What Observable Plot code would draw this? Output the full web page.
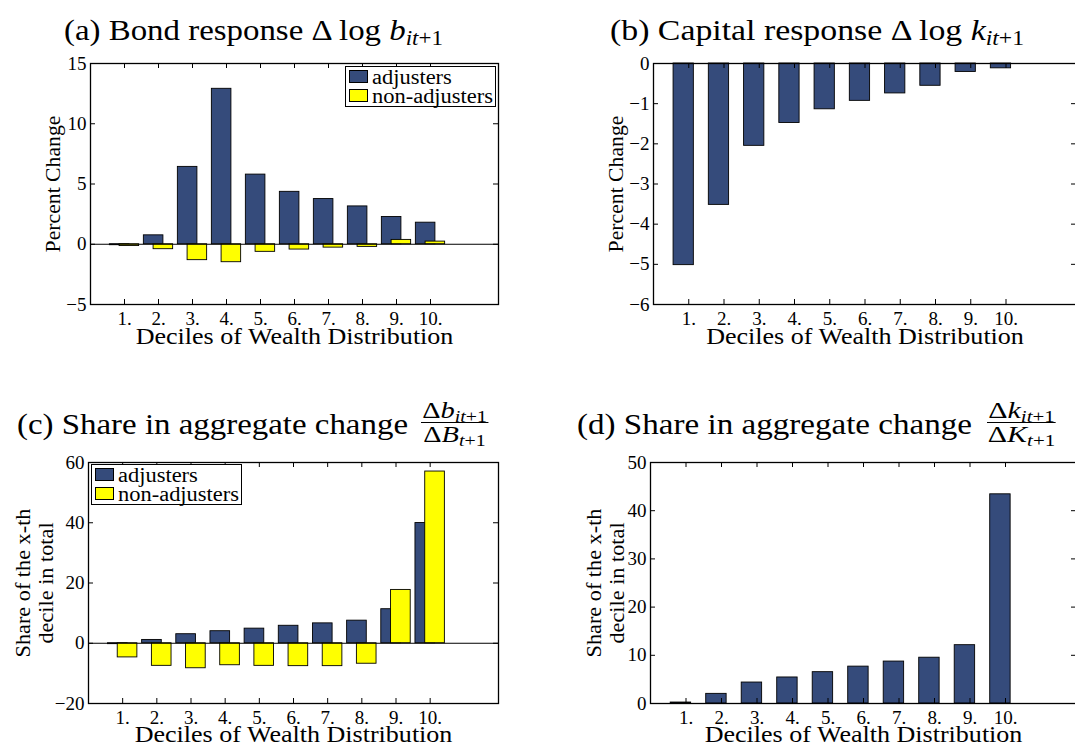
<!DOCTYPE html>
<html><head><meta charset="utf-8">
<script src="https://cdn.jsdelivr.net/npm/d3@7"></script>
<script src="https://cdn.jsdelivr.net/npm/@observablehq/plot@0.6"></script>
<style>
html,body{margin:0;padding:0;background:#fff;}
body{width:1075px;height:746px;overflow:hidden;position:relative;font-family:"Liberation Serif",serif;color:#000;}
.title{position:absolute;white-space:nowrap;font-size:30px;line-height:29px;}
.title sub,.frac sub{font-size:0.7em;vertical-align:-0.25em;line-height:0;}
.frac{position:absolute;font-size:24px;line-height:20px;text-align:center;white-space:nowrap;}
.frac .num{padding:0 1px 2px 1px;border-bottom:1.2px solid #000;}
.frac .den{padding-top:1px;}
.legend{position:absolute;border:1.2px solid #000;background:#fff;font-size:20px;line-height:19px;box-sizing:border-box;}
.legend .row{position:relative;height:19px;padding-left:26px;white-space:nowrap;}
.legend .row span.t{display:inline-block;}
.legend .sw{position:absolute;left:3px;top:2px;width:19px;height:13px;border:1px solid #000;box-sizing:border-box;}
</style>
</head><body>
<script>
// ---- data ----
const deciles = [1, 2, 3, 4, 5, 6, 7, 8, 9, 10];
const decileLabels = ["1.", "2.", "3.", "4.", "5.", "6.", "7.", "8.", "9.", "10."];
const seriesNames = ["adjusters", "non-adjusters"];
// (a) Bond response, percent change
const bondAdj    = [-0.08, 0.74, 6.42, 12.9, 5.78, 4.35, 3.75, 3.14, 2.26, 1.79];
const bondNonAdj = [-0.15, -0.41, -1.32, -1.49, -0.63, -0.44, -0.28, -0.22, 0.36, 0.22];
// (b) Capital response, percent change
const capAdj     = [-5.02, -3.52, -2.05, -1.48, -1.14, -0.93, -0.745, -0.555, -0.21, -0.12];
// (c) Share in aggregate bond change
const bondShareAdj    = [-0.3, 1.1, 3.0, 4.0, 4.85, 5.8, 6.6, 7.5, 11.3, 39.9];
const bondShareNonAdj = [-4.7, -7.5, -8.3, -7.3, -7.5, -7.6, -7.6, -6.8, 17.7, 57.0];
// (d) Share in aggregate capital change
const capShareAdj = [0.2, 2.0, 4.35, 5.4, 6.5, 7.65, 8.7, 9.5, 12.1, 43.4];
// ticks
const yTicksA = [-5, 0, 5, 10, 15];
const yTicksB = [-6, -5, -4, -3, -2, -1, 0];
const yTicksC = [-20, 0, 20, 40, 60];
const yTicksD = [0, 10, 20, 30, 40, 50];
const xLabel = "Deciles of Wealth Distribution";
const yLabelPct = "Percent Change";
const yLabelShare = "Share of the x-th\ndecile in total";

const BLUE = "#354B7B", YELLOW = "#FFFF00";
const OFF = 0.143, BW = 0.575;
const FONT = "'Liberation Serif', serif";

// stretch an SVG text horizontally (along its baseline) to a target length
function stretchText(svg, startsWith, target) {
  for (const t of svg.querySelectorAll("text")) {
    if (!t.textContent.startsWith(startsWith)) continue;
    let w = t.getBBox().width;
    const first = t.querySelector("tspan");
    if (first) w = first.getComputedTextLength();
    const k = target / w;
    const tr = t.getAttribute("transform") || "";
    t.setAttribute("transform", tr + ` scale(${k},1)`);
  }
}

function panel(o) {
  const plotW = o.width - o.mL - o.mR, plotH = o.height - o.mT - o.mB;
  const marks = [];
  o.series.forEach(s => {
    const rows = deciles.map((x, i) => ({x, v: s.values[i]}));
    marks.push(Plot.rect(rows, {
      x1: d => d.x + s.offset - BW / 2, x2: d => d.x + s.offset + BW / 2,
      y1: d => 0, y2: d => d.v, fill: s.color, stroke: "#000", strokeWidth: 0.9
    }));
  });
  if (o.zero) marks.push(Plot.ruleY([0], {stroke: "#000", strokeWidth: 1}));
  const tk = {stroke: "#000", strokeWidth: 1};
  marks.push(Plot.tickY(o.yTicks, {y: d => d, insetRight: plotW - 5, ...tk}));
  marks.push(Plot.tickY(o.yTicks, {y: d => d, insetLeft: plotW - 5, ...tk}));
  marks.push(Plot.tickX(deciles, {x: d => d, insetTop: plotH - 5, ...tk}));
  marks.push(Plot.tickX(deciles, {x: d => d, insetBottom: plotH - 5, ...tk}));
  marks.push(Plot.frame({stroke: "#000", strokeWidth: 1.3}));
  marks.push(Plot.axisY(o.yTicks, {tickSize: 0, tickPadding: 4, label: null, fontSize: 19}));
  marks.push(Plot.axisX(deciles, {tickSize: 0, tickPadding: 7, label: null, fontSize: 19, tickFormat: d => decileLabels[d - 1]}));
  marks.push(Plot.text([xLabel], {text: d => d, frameAnchor: "bottom", textAnchor: "middle", dy: o.xdy, fontSize: 24, lineAnchor: "middle"}));
  marks.push(Plot.text([o.yLabel], {text: d => d, frameAnchor: "left", textAnchor: "middle", dx: o.ydx, rotate: -90, fontSize: 20, lineAnchor: "middle", lineHeight: 1.15}));
  const svg = Plot.plot({
    width: o.width, height: o.height,
    marginLeft: o.mL, marginRight: o.mR, marginTop: o.mT, marginBottom: o.mB,
    x: {type: "linear", domain: [0, 12], axis: null},
    y: {type: "linear", domain: o.yDomain, axis: null},
    style: {fontFamily: FONT, fontSize: "19px", color: "#000", background: "transparent", overflow: "visible"},
    marks
  });
  svg.style.position = "absolute";
  svg.style.left = o.left + "px";
  svg.style.top = o.top + "px";
  document.body.appendChild(svg);
  stretchText(svg, xLabel, 318);
  stretchText(svg, o.yLabel.split("\n")[0], o.yLen);
}

panel({left: 0, top: 0, width: 540, height: 360, mL: 90, mR: 42, mT: 63, mB: 56,
  yDomain: [-5, 15], yTicks: yTicksA, yLabel: yLabelPct, yLen: 137, zero: true, xdy: 32, ydx: -38,
  series: [{values: bondAdj, color: BLUE, offset: -OFF}, {values: bondNonAdj, color: YELLOW, offset: OFF}]});
panel({left: 540, top: 0, width: 540, height: 360, mL: 113, mR: 4, mT: 63, mB: 56,
  yDomain: [-6, 0], yTicks: yTicksB, yLabel: yLabelPct, yLen: 137, zero: false, xdy: 32, ydx: -38,
  series: [{values: capAdj, color: BLUE, offset: -OFF}]});
panel({left: 0, top: 376, width: 540, height: 370, mL: 88, mR: 42, mT: 86, mB: 43,
  yDomain: [-20, 60], yTicks: yTicksC, yLabel: yLabelShare, yLen: 149, zero: true, xdy: 31, ydx: -54,
  series: [{values: bondShareAdj, color: BLUE, offset: -OFF}, {values: bondShareNonAdj, color: YELLOW, offset: OFF}]});
panel({left: 540, top: 376, width: 540, height: 370, mL: 110, mR: 4, mT: 86, mB: 43,
  yDomain: [0, 50], yTicks: yTicksD, yLabel: yLabelShare, yLen: 149, zero: false, xdy: 31, ydx: -45,
  series: [{values: capShareAdj, color: BLUE, offset: -OFF}]});

function add(html) { const t = document.createElement("template"); t.innerHTML = html.trim(); const el = t.content.firstChild; document.body.appendChild(el); return el; }
function fitWidth(el, target) { const w = el.getBoundingClientRect().width; el.style.transformOrigin = "0 0"; el.style.transform = `scaleX(${target / w})`; }
fitWidth(add(`<div class="title" style="left:64px;top:15px">(a) Bond response Δ log <i>b</i><sub><i>it</i>+1</sub></div>`), 379);
fitWidth(add(`<div class="title" style="left:610px;top:15px">(b) Capital response Δ log <i>k</i><sub><i>it</i>+1</sub></div>`), 414);
fitWidth(add(`<div class="title" style="left:17px;top:409px">(c) Share in aggregate change</div>`), 391);
fitWidth(add(`<div class="frac" style="left:421px;top:400px"><div class="num">Δ<i>b</i><sub><i>it</i>+1</sub></div><div class="den">Δ<i>B</i><sub><i>t</i>+1</sub></div></div>`), 67);
fitWidth(add(`<div class="title" style="left:577px;top:409px">(d) Share in aggregate change</div>`), 395);
fitWidth(add(`<div class="frac" style="left:987px;top:400px"><div class="num">Δ<i>k</i><sub><i>it</i>+1</sub></div><div class="den">Δ<i>K</i><sub><i>t</i>+1</sub></div></div>`), 69);
function legend(left, top) {
  const el = add(`<div class="legend" style="left:${left}px;top:${top}px;width:151px;height:41px;padding-top:1px">
    <div class="row"><span class="sw" style="background:${BLUE}"></span><span class="t">${seriesNames[0]}</span></div>
    <div class="row"><span class="sw" style="background:${YELLOW}"></span><span class="t">${seriesNames[1]}</span></div></div>`);
  const spans = el.querySelectorAll("span.t");
  const k = 121 / spans[1].getBoundingClientRect().width;
  spans.forEach(s => { s.style.transformOrigin = "0 0"; s.style.transform = `scaleX(${k})`; });
}
legend(345, 66);
legend(91, 464);
</script>
</body></html>
